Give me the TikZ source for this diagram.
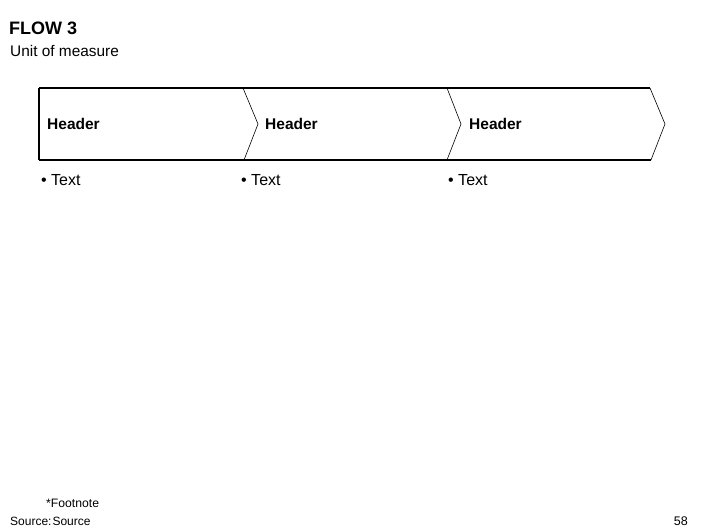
\documentclass[tikz,border=0pt]{standalone}
\usepackage{fontspec}
\setmainfont{Liberation Sans}
\begin{document}
\begin{tikzpicture}[x=1pt,y=-1pt,
  lbl/.style={anchor=base west, inner sep=0pt},
  hdr/.style={lbl, font=\fontsize{15.5}{18}\selectfont\bfseries},
  bul/.style={lbl, font=\fontsize{16}{18}\selectfont},
  edge/.style={line width=1.2pt, black},
  chev/.style={line width=0.6pt, black}]
\useasboundingbox (0,0) rectangle (706,529);
% outline coordinates
\coordinate (tl) at (39,88);
\coordinate (bl) at (39,160);
\coordinate (c1t) at (243,88); \coordinate (c1m) at (258,124); \coordinate (c1b) at (244,160);
\coordinate (c2t) at (447,88); \coordinate (c2m) at (461,124); \coordinate (c2b) at (447,160);
\coordinate (c3t) at (650,88); \coordinate (c3m) at (665,124); \coordinate (c3b) at (651,160);
\draw[edge] (tl) -- (c3t);
\draw[edge] (bl) -- (c3b);
\draw[edge] (tl) -- (bl);
\draw[chev] (c1t) -- (c1m) -- (c1b);
\draw[chev] (c2t) -- (c2m) -- (c2b);
\draw[chev] (c3t) -- (c3m) -- (c3b);
% texts
\node[lbl, font=\fontsize{18}{20}\selectfont\bfseries] (title) at (9,35) {FLOW 3};
\node[lbl, font=\fontsize{15.4}{18}\selectfont] (unit) at (10,56.5) {Unit of measure};
\node[hdr] (h1) at (47,130) {Header};
\node[hdr] (h2) at (265,130) {Header};
\node[hdr] (h3) at (469,130) {Header};
\node[bul] (t1) at (41,186) {• Text};
\node[bul] (t2) at (241,186) {• Text};
\node[bul] (t3) at (448,186) {• Text};
\node[lbl, font=\fontsize{12.2}{14}\selectfont] (fn) at (46,507.5) {*Footnote};
\node[lbl, font=\fontsize{12}{14}\selectfont] (src) at (10,525) {Source:\hspace{1pt}Source};
\node[anchor=base east, inner sep=0pt, font=\fontsize{12.5}{14}\selectfont] (pg) at (688,525) {58};
\end{tikzpicture}
\end{document}
